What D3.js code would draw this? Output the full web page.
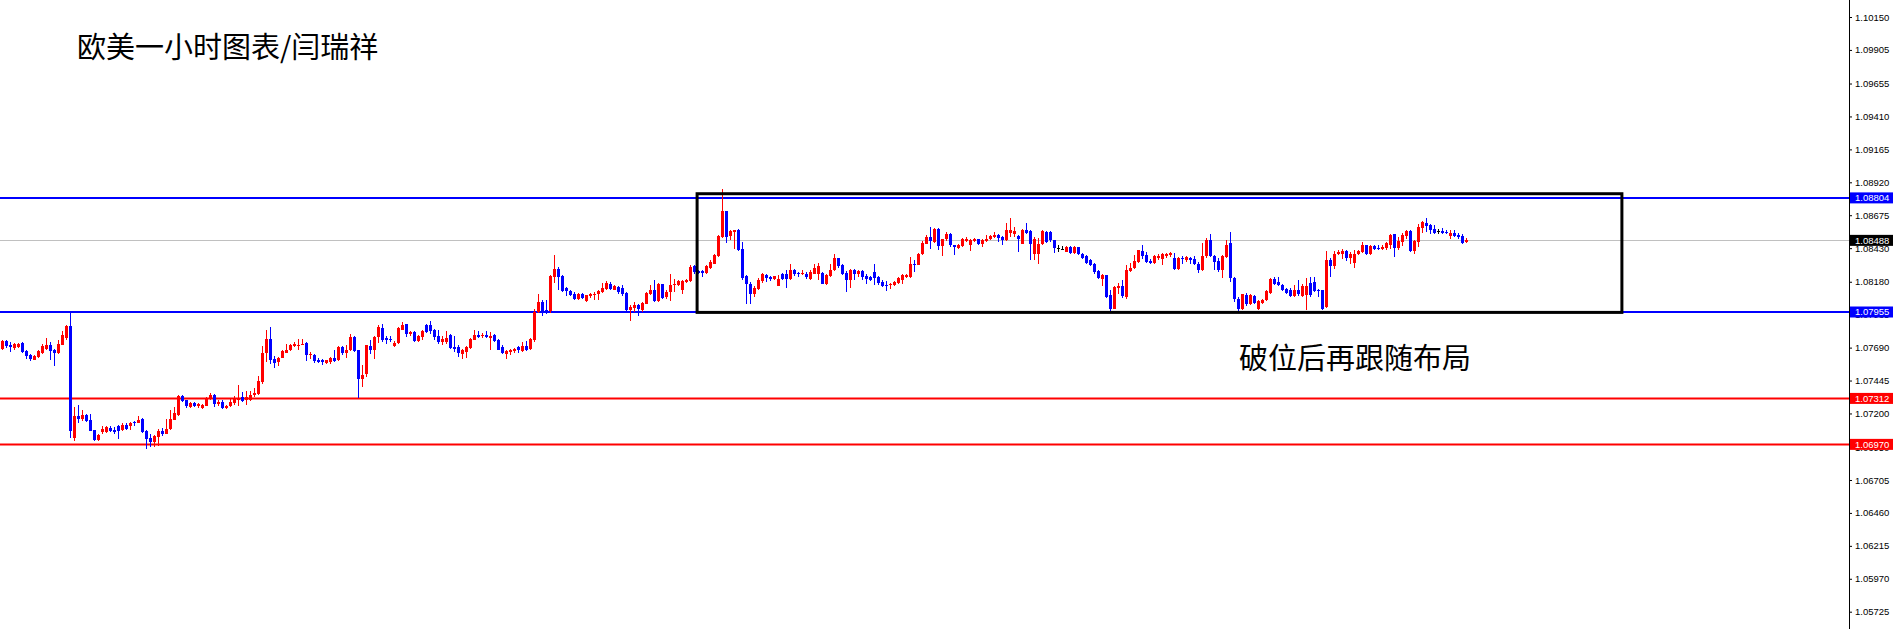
<!DOCTYPE html>
<html><head><meta charset="utf-8">
<script src="https://cdn.jsdelivr.net/npm/d3@7"></script>
<style>html,body{margin:0;padding:0;background:#fff;overflow:hidden}</style>
</head><body>
<svg id="chart" width="1895" height="629"></svg>
<script>
// ---- data (EURUSD 1H) ----
const openP = [
1.07680,1.07739,1.07712,1.07685,1.07695,1.07727,1.07665,1.07638,1.07601,1.07620,
1.07653,1.07682,1.07707,1.07675,1.07650,1.07712,1.07764,1.07851,1.07020,1.07179,
1.07159,1.07189,1.07149,1.07075,1.07000,1.07062,1.07065,1.07095,1.07075,1.07109,
1.07075,1.07114,1.07105,1.07134,1.07132,1.07162,1.07067,1.07018,1.06988,1.07025,
1.07070,1.07050,1.07082,1.07154,1.07191,1.07328,1.07298,1.07248,1.07276,1.07253,
1.07243,1.07256,1.07310,1.07335,1.07268,1.07286,1.07243,1.07253,1.07278,1.07298,
1.07323,1.07298,1.07298,1.07335,1.07343,1.07434,1.07653,1.07752,1.07603,1.07581,
1.07615,1.07653,1.07670,1.07700,1.07707,1.07712,1.07727,1.07633,1.07638,1.07596,
1.07601,1.07576,1.07583,1.07615,1.07596,1.07695,1.07650,1.07670,1.07769,1.07670,
1.07454,1.07491,1.07700,1.07670,1.07769,1.07839,1.07762,1.07757,1.07700,1.07725,
1.07824,1.07863,1.07794,1.07806,1.07739,1.07769,1.07856,1.07856,1.07819,1.07774,
1.07730,1.07732,1.07782,1.07695,1.07695,1.07645,1.07658,1.07687,1.07749,1.07782,
1.07774,1.07782,1.07764,1.07782,1.07744,1.07695,1.07640,1.07658,1.07663,1.07695,
1.07663,1.07705,1.07682,1.07744,1.07955,1.08030,1.07968,1.07960,1.08216,1.08278,
1.08221,1.08134,1.08111,1.08092,1.08054,1.08092,1.08037,1.08074,1.08079,1.08087,
1.08104,1.08129,1.08166,1.08121,1.08141,1.08136,1.08097,1.07973,1.07987,1.08005,
1.07973,1.08017,1.08092,1.08121,1.08037,1.08161,1.08067,1.08104,1.08154,1.08156,
1.08116,1.08178,1.08185,1.08294,1.08257,1.08257,1.08245,1.08284,1.08314,1.08369,
1.08512,1.08703,1.08517,1.08550,1.08562,1.08426,1.08220,1.08165,1.08086,1.08128,
1.08185,1.08232,1.08215,1.08202,1.08148,1.08235,1.08240,1.08198,1.08264,1.08242,
1.08235,1.08240,1.08198,1.08240,1.08240,1.08245,1.08165,1.08220,1.08264,1.08354,
1.08302,1.08245,1.08195,1.08264,1.08235,1.08259,1.08220,1.08215,1.08252,1.08215,
1.08178,1.08153,1.08153,1.08158,1.08170,1.08195,1.08215,1.08215,1.08309,1.08307,
1.08388,1.08463,1.08512,1.08475,1.08574,1.08443,1.08495,1.08537,1.08450,1.08431,
1.08445,1.08483,1.08455,1.08483,1.08495,1.08458,1.08483,1.08495,1.08512,1.08530,
1.08512,1.08488,1.08545,1.08537,1.08520,1.08463,1.08562,1.08557,1.08383,1.08383,
1.08458,1.08550,1.08550,1.08488,1.08431,1.08426,1.08401,1.08438,1.08393,1.08438,
1.08383,1.08369,1.08339,1.08309,1.08257,1.08198,1.08227,1.08078,1.07979,1.08136,
1.08145,1.08066,1.08259,1.08284,1.08326,1.08406,1.08376,1.08331,1.08319,1.08359,
1.08351,1.08369,1.08376,1.08359,1.08277,1.08359,1.08344,1.08356,1.08351,1.08314,
1.08264,1.08369,1.08493,1.08369,1.08334,1.08269,1.08364,1.08468,1.08210,1.08054,
1.07979,1.08079,1.08017,1.08071,1.07974,1.08024,1.08041,1.08096,1.08202,1.08178,
1.08153,1.08128,1.08116,1.08074,1.08116,1.08074,1.08079,1.08170,1.08178,1.08121,
1.08116,1.07992,1.08339,1.08294,1.08383,1.08388,1.08406,1.08359,1.08319,1.08383,
1.08401,1.08450,1.08383,1.08445,1.08431,1.08421,1.08433,1.08450,1.08532,1.08431,
1.08475,1.08517,1.08555,1.08406,1.08475,1.08582,1.08619,1.08599,1.08569,1.08555,
1.08555,1.08550,1.08520,1.08542,1.08525,1.08517,1.08473];
const highP = [
1.07744,1.07744,1.07732,1.07725,1.07727,1.07734,1.07670,1.07645,1.07633,1.07670,
1.07720,1.07764,1.07734,1.07682,1.07744,1.07811,1.07856,1.07955,1.07248,1.07261,
1.07224,1.07199,1.07199,1.07080,1.07050,1.07105,1.07109,1.07105,1.07100,1.07114,
1.07132,1.07132,1.07137,1.07144,1.07179,1.07169,1.07075,1.07050,1.07038,1.07087,
1.07095,1.07162,1.07224,1.07248,1.07335,1.07335,1.07303,1.07286,1.07283,1.07281,
1.07273,1.07323,1.07353,1.07343,1.07303,1.07298,1.07263,1.07308,1.07328,1.07410,
1.07360,1.07367,1.07367,1.07387,1.07477,1.07705,1.07819,1.07844,1.07630,1.07623,
1.07672,1.07720,1.07720,1.07730,1.07757,1.07757,1.07732,1.07658,1.07645,1.07615,
1.07608,1.07601,1.07620,1.07670,1.07705,1.07702,1.07707,1.07789,1.07774,1.07675,
1.07558,1.07712,1.07749,1.07774,1.07856,1.07863,1.07774,1.07774,1.07739,1.07844,
1.07881,1.07868,1.07814,1.07814,1.07782,1.07819,1.07863,1.07886,1.07831,1.07824,
1.07774,1.07811,1.07789,1.07774,1.07707,1.07682,1.07702,1.07764,1.07824,1.07814,
1.07799,1.07811,1.07806,1.07789,1.07757,1.07707,1.07670,1.07680,1.07690,1.07702,
1.07732,1.07739,1.07762,1.07980,1.08087,1.08042,1.08047,1.08228,1.08377,1.08290,
1.08228,1.08141,1.08121,1.08104,1.08099,1.08097,1.08084,1.08099,1.08104,1.08116,
1.08171,1.08183,1.08178,1.08159,1.08149,1.08154,1.08104,1.08005,1.08030,1.08017,
1.08027,1.08104,1.08154,1.08191,1.08173,1.08166,1.08121,1.08235,1.08203,1.08196,
1.08195,1.08202,1.08302,1.08302,1.08264,1.08264,1.08302,1.08339,1.08388,1.08525,
1.08867,1.08703,1.08567,1.08567,1.08574,1.08475,1.08232,1.08178,1.08145,1.08210,
1.08245,1.08240,1.08220,1.08225,1.08227,1.08245,1.08269,1.08309,1.08274,1.08252,
1.08269,1.08252,1.08264,1.08314,1.08319,1.08252,1.08240,1.08314,1.08383,1.08359,
1.08314,1.08257,1.08277,1.08277,1.08269,1.08264,1.08240,1.08222,1.08314,1.08222,
1.08190,1.08183,1.08170,1.08185,1.08215,1.08235,1.08240,1.08364,1.08339,1.08393,
1.08480,1.08525,1.08587,1.08579,1.08579,1.08500,1.08550,1.08542,1.08455,1.08458,
1.08505,1.08512,1.08495,1.08507,1.08500,1.08495,1.08525,1.08525,1.08550,1.08537,
1.08520,1.08617,1.08654,1.08587,1.08525,1.08572,1.08619,1.08562,1.08512,1.08507,
1.08562,1.08557,1.08557,1.08493,1.08455,1.08443,1.08443,1.08443,1.08443,1.08438,
1.08393,1.08376,1.08346,1.08319,1.08264,1.08240,1.08232,1.08116,1.08145,1.08170,
1.08195,1.08302,1.08319,1.08376,1.08418,1.08450,1.08401,1.08351,1.08376,1.08388,
1.08393,1.08393,1.08398,1.08393,1.08364,1.08369,1.08369,1.08364,1.08369,1.08326,
1.08468,1.08507,1.08537,1.08376,1.08359,1.08376,1.08493,1.08550,1.08215,1.08066,
1.08091,1.08096,1.08091,1.08079,1.08041,1.08054,1.08116,1.08207,1.08215,1.08215,
1.08165,1.08136,1.08136,1.08153,1.08190,1.08165,1.08210,1.08215,1.08215,1.08128,
1.08121,1.08408,1.08359,1.08406,1.08413,1.08426,1.08413,1.08401,1.08413,1.08418,
1.08475,1.08455,1.08450,1.08455,1.08450,1.08455,1.08475,1.08537,1.08537,1.08512,
1.08542,1.08562,1.08562,1.08488,1.08607,1.08629,1.08656,1.08612,1.08599,1.08574,
1.08582,1.08562,1.08562,1.08567,1.08542,1.08537,1.08507];
const lowP = [
1.07675,1.07690,1.07658,1.07675,1.07685,1.07650,1.07603,1.07593,1.07596,1.07615,
1.07645,1.07670,1.07601,1.07553,1.07645,1.07707,1.07749,1.07020,1.06995,1.07132,
1.07142,1.07137,1.07067,1.06995,1.06993,1.07050,1.07057,1.07062,1.07050,1.07013,
1.07067,1.07075,1.07075,1.07105,1.07127,1.07057,1.06936,1.06951,1.06951,1.06958,
1.07030,1.07045,1.07075,1.07149,1.07184,1.07288,1.07243,1.07243,1.07248,1.07241,
1.07231,1.07253,1.07300,1.07248,1.07253,1.07236,1.07234,1.07246,1.07261,1.07256,
1.07286,1.07261,1.07293,1.07323,1.07335,1.07422,1.07583,1.07566,1.07539,1.07556,
1.07610,1.07650,1.07665,1.07692,1.07670,1.07707,1.07593,1.07603,1.07578,1.07573,
1.07563,1.07571,1.07571,1.07586,1.07591,1.07633,1.07615,1.07665,1.07658,1.07312,
1.07397,1.07472,1.07645,1.07608,1.07725,1.07732,1.07720,1.07730,1.07695,1.07720,
1.07819,1.07769,1.07774,1.07732,1.07732,1.07744,1.07799,1.07794,1.07749,1.07715,
1.07707,1.07720,1.07677,1.07658,1.07620,1.07608,1.07613,1.07682,1.07744,1.07764,
1.07764,1.07764,1.07670,1.07732,1.07670,1.07640,1.07603,1.07633,1.07650,1.07653,
1.07658,1.07665,1.07675,1.07732,1.07948,1.07925,1.07938,1.07948,1.08171,1.08116,
1.08104,1.08072,1.08072,1.08047,1.08047,1.08054,1.08030,1.08062,1.08047,1.08047,
1.08097,1.08121,1.08116,1.08116,1.08087,1.08072,1.07955,1.07888,1.07955,1.07925,
1.07955,1.08012,1.08084,1.08030,1.08030,1.08054,1.08054,1.08037,1.08104,1.08149,
1.08086,1.08170,1.08178,1.08240,1.08240,1.08215,1.08240,1.08277,1.08309,1.08364,
1.08507,1.08468,1.08493,1.08426,1.08408,1.08195,1.08016,1.08016,1.08066,1.08116,
1.08170,1.08178,1.08183,1.08190,1.08145,1.08190,1.08133,1.08190,1.08220,1.08215,
1.08227,1.08202,1.08190,1.08235,1.08190,1.08160,1.08158,1.08212,1.08259,1.08284,
1.08232,1.08103,1.08133,1.08190,1.08215,1.08190,1.08165,1.08185,1.08158,1.08158,
1.08140,1.08111,1.08128,1.08148,1.08165,1.08165,1.08207,1.08210,1.08252,1.08302,
1.08376,1.08458,1.08426,1.08468,1.08418,1.08369,1.08483,1.08438,1.08376,1.08423,
1.08438,1.08475,1.08406,1.08475,1.08450,1.08438,1.08475,1.08488,1.08507,1.08475,
1.08450,1.08480,1.08512,1.08512,1.08401,1.08458,1.08537,1.08344,1.08344,1.08314,
1.08450,1.08468,1.08475,1.08393,1.08401,1.08413,1.08401,1.08388,1.08388,1.08376,
1.08351,1.08309,1.08297,1.08235,1.08198,1.08145,1.08061,1.07959,1.07974,1.08091,
1.08061,1.08049,1.08252,1.08277,1.08319,1.08351,1.08319,1.08309,1.08314,1.08344,
1.08302,1.08359,1.08364,1.08264,1.08269,1.08314,1.08326,1.08314,1.08302,1.08245,
1.08259,1.08359,1.08364,1.08269,1.08252,1.08210,1.08359,1.08178,1.08029,1.07962,
1.07972,1.07997,1.08009,1.08017,1.07967,1.08017,1.08036,1.08091,1.08158,1.08145,
1.08108,1.08091,1.08066,1.08066,1.08071,1.08066,1.07967,1.08066,1.08103,1.08066,
1.07967,1.07987,1.08215,1.08277,1.08376,1.08351,1.08334,1.08314,1.08282,1.08376,
1.08393,1.08376,1.08376,1.08413,1.08413,1.08413,1.08418,1.08426,1.08364,1.08413,
1.08445,1.08495,1.08401,1.08383,1.08438,1.08542,1.08550,1.08532,1.08537,1.08532,
1.08537,1.08532,1.08495,1.08512,1.08495,1.08458,1.08468];
const closeP = [
1.07739,1.07700,1.07697,1.07720,1.07720,1.07658,1.07628,1.07603,1.07628,1.07665,
1.07702,1.07712,1.07665,1.07650,1.07720,1.07782,1.07851,1.07070,1.07179,1.07157,
1.07189,1.07144,1.07070,1.07000,1.07043,1.07085,1.07100,1.07067,1.07062,1.07067,
1.07112,1.07082,1.07129,1.07129,1.07152,1.07062,1.07013,1.06988,1.07033,1.07067,
1.07045,1.07087,1.07157,1.07204,1.07328,1.07293,1.07253,1.07278,1.07253,1.07271,
1.07266,1.07315,1.07335,1.07273,1.07286,1.07243,1.07256,1.07286,1.07308,1.07308,
1.07293,1.07323,1.07335,1.07353,1.07442,1.07653,1.07752,1.07596,1.07578,1.07615,
1.07665,1.07675,1.07707,1.07720,1.07712,1.07720,1.07633,1.07645,1.07588,1.07586,
1.07581,1.07596,1.07615,1.07591,1.07695,1.07650,1.07675,1.07769,1.07665,1.07454,
1.07484,1.07707,1.07670,1.07769,1.07844,1.07744,1.07749,1.07749,1.07727,1.07836,
1.07856,1.07794,1.07806,1.07739,1.07774,1.07811,1.07806,1.07811,1.07769,1.07732,
1.07757,1.07762,1.07687,1.07680,1.07653,1.07670,1.07695,1.07757,1.07782,1.07769,
1.07782,1.07769,1.07774,1.07739,1.07675,1.07653,1.07665,1.07675,1.07682,1.07670,
1.07700,1.07675,1.07752,1.07955,1.08030,1.07955,1.07955,1.08221,1.08278,1.08216,
1.08111,1.08109,1.08079,1.08054,1.08092,1.08059,1.08079,1.08092,1.08092,1.08109,
1.08136,1.08171,1.08129,1.08146,1.08104,1.08092,1.07968,1.07992,1.08005,1.07980,
1.08022,1.08097,1.08121,1.08037,1.08161,1.08062,1.08104,1.08159,1.08166,1.08183,
1.08183,1.08195,1.08289,1.08252,1.08247,1.08247,1.08297,1.08326,1.08376,1.08517,
1.08703,1.08512,1.08557,1.08562,1.08418,1.08210,1.08165,1.08091,1.08136,1.08190,
1.08235,1.08207,1.08200,1.08220,1.08202,1.08198,1.08198,1.08269,1.08235,1.08235,
1.08245,1.08215,1.08252,1.08284,1.08294,1.08165,1.08227,1.08269,1.08354,1.08294,
1.08240,1.08195,1.08264,1.08235,1.08259,1.08215,1.08198,1.08195,1.08207,1.08170,
1.08145,1.08145,1.08165,1.08178,1.08207,1.08227,1.08232,1.08309,1.08302,1.08388,
1.08470,1.08512,1.08480,1.08574,1.08443,1.08495,1.08537,1.08450,1.08438,1.08450,
1.08495,1.08500,1.08488,1.08500,1.08463,1.08488,1.08500,1.08520,1.08525,1.08507,
1.08488,1.08562,1.08567,1.08557,1.08498,1.08567,1.08545,1.08463,1.08500,1.08463,
1.08557,1.08475,1.08488,1.08431,1.08431,1.08426,1.08438,1.08393,1.08438,1.08383,
1.08359,1.08319,1.08302,1.08252,1.08207,1.08227,1.08066,1.07979,1.08140,1.08145,
1.08071,1.08264,1.08284,1.08331,1.08413,1.08369,1.08326,1.08319,1.08369,1.08374,
1.08383,1.08383,1.08393,1.08272,1.08359,1.08346,1.08364,1.08344,1.08309,1.08264,
1.08369,1.08493,1.08369,1.08326,1.08269,1.08369,1.08455,1.08210,1.08049,1.07979,
1.08086,1.08012,1.08079,1.08024,1.08034,1.08046,1.08108,1.08202,1.08165,1.08153,
1.08116,1.08098,1.08071,1.08116,1.08091,1.08145,1.08145,1.08079,1.08108,1.08108,
1.07979,1.08339,1.08294,1.08388,1.08401,1.08408,1.08359,1.08388,1.08383,1.08408,
1.08450,1.08383,1.08445,1.08421,1.08421,1.08438,1.08468,1.08530,1.08431,1.08483,
1.08525,1.08555,1.08406,1.08480,1.08587,1.08624,1.08592,1.08562,1.08545,1.08555,
1.08545,1.08542,1.08542,1.08520,1.08512,1.08470,1.08488];

const tickLabels = ["1.10150","1.09905","1.09655","1.09410","1.09165","1.08920","1.08675","1.08430",
  "1.08180","1.07935","1.07690","1.07445","1.07200","1.06950","1.06705","1.06460","1.06215","1.05970","1.05725"];
const blueLevels = [1.08804, 1.07955];
const redLevels = [1.07312, 1.06970];
const lastPrice = 1.08488;
const boxBarIndex = [173.7, 404.9];
const boxPrices = [1.07952, 1.08835];
const titleText = "欧美一小时图表/闫瑞祥";
const noteText = "破位后再跟随布局";

// ---- drawing ----
const W = 1895, H = 629, axisX = 1849;
const svg = d3.select("#chart");
const y = d3.scaleLinear().domain([1.10150, 1.05725]).range([17, 611.7]);
const x = d3.scaleLinear().domain([0, 1]).range([2.3, 6.3]);

const bars = openP.map((o, i) => ({i, o, h: highP[i], l: lowP[i], c: closeP[i]}));
const colorOf = d => d.c > d.o ? "#ff0000" : (d.c < d.o ? "#0000ff" : "#000000");

// gray current price line
svg.append("line").attr("x1", 0).attr("x2", axisX).attr("y1", Math.round(y(lastPrice)) + 0.5).attr("y2", Math.round(y(lastPrice)) + 0.5)
  .attr("stroke", "#c0c0c0").attr("stroke-width", 1);

// level lines
const lv = svg.append("g");
lv.selectAll("line.b").data(blueLevels).join("line").attr("class", "b")
  .attr("x1", 0).attr("x2", axisX).attr("y1", d => y(d)).attr("y2", d => y(d))
  .attr("stroke", "#0000ff").attr("stroke-width", 2);
lv.selectAll("line.r").data(redLevels).join("line").attr("class", "r")
  .attr("x1", 0).attr("x2", axisX).attr("y1", d => y(d)).attr("y2", d => y(d))
  .attr("stroke", "#ff0000").attr("stroke-width", 2);

// candles
const cg = svg.append("g").attr("shape-rendering", "crispEdges");
cg.selectAll("rect.w").data(bars).join("rect").attr("class", "w")
  .attr("x", d => Math.round(x(d.i))).attr("width", 1)
  .attr("y", d => y(d.h)).attr("height", d => Math.max(1, y(d.l) - y(d.h)))
  .attr("fill", colorOf);
cg.selectAll("rect.b").data(bars).join("rect").attr("class", "b")
  .attr("x", d => Math.round(x(d.i)) - 1).attr("width", 3)
  .attr("y", d => Math.min(y(d.o), y(d.c)))
  .attr("height", d => Math.max(1, Math.abs(y(d.o) - y(d.c))))
  .attr("fill", colorOf);

// rectangle
svg.append("rect")
  .attr("x", x(boxBarIndex[0])).attr("y", y(boxPrices[1]))
  .attr("width", x(boxBarIndex[1]) - x(boxBarIndex[0]))
  .attr("height", y(boxPrices[0]) - y(boxPrices[1]))
  .attr("fill", "none").attr("stroke", "#000").attr("stroke-width", 3);

// right axis
svg.append("line").attr("x1", axisX + 0.5).attr("x2", axisX + 0.5).attr("y1", 0).attr("y2", H)
  .attr("stroke", "#000").attr("stroke-width", 1);
const tickVals = tickLabels.map(Number);
const ax = svg.append("g").attr("transform", `translate(${axisX},0)`)
  .call(d3.axisRight(y).tickValues(tickVals).tickFormat((d, i) => tickLabels[i]).tickSize(3).tickPadding(3));
ax.select(".domain").remove();
ax.attr("font-family", "'Liberation Sans', Arial, sans-serif").attr("font-size", 9.5);
ax.selectAll("text").attr("fill", "#000");

// price boxes
const boxes = [
  ...blueLevels.map(p => ({p, fill: "#0000ff"})),
  ...redLevels.map(p => ({p, fill: "#ff0000"})),
  {p: lastPrice, fill: "#000000"}
];
const bg = svg.append("g");
bg.selectAll("rect").data(boxes).join("rect")
  .attr("x", axisX + 1).attr("y", d => y(d.p) - 5.5).attr("width", 43).attr("height", 11)
  .attr("fill", d => d.fill);
bg.selectAll("text").data(boxes).join("text")
  .attr("x", axisX + 6).attr("y", d => y(d.p)).attr("dy", "0.34em")
  .attr("font-family", "'Liberation Sans', Arial, sans-serif").attr("font-size", 9.5)
  .attr("fill", "#fff").text(d => d.p.toFixed(5));

// texts
svg.append("text").attr("x", 77).attr("y", 58)
  .attr("font-family", "'Noto Sans CJK SC', sans-serif").attr("font-size", 29).attr("fill", "#000")
  .text(titleText);
svg.append("text").attr("x", 1239).attr("y", 369)
  .attr("font-family", "'Noto Sans CJK SC', sans-serif").attr("font-size", 29).attr("fill", "#000")
  .text(noteText);
</script>
</body></html>
